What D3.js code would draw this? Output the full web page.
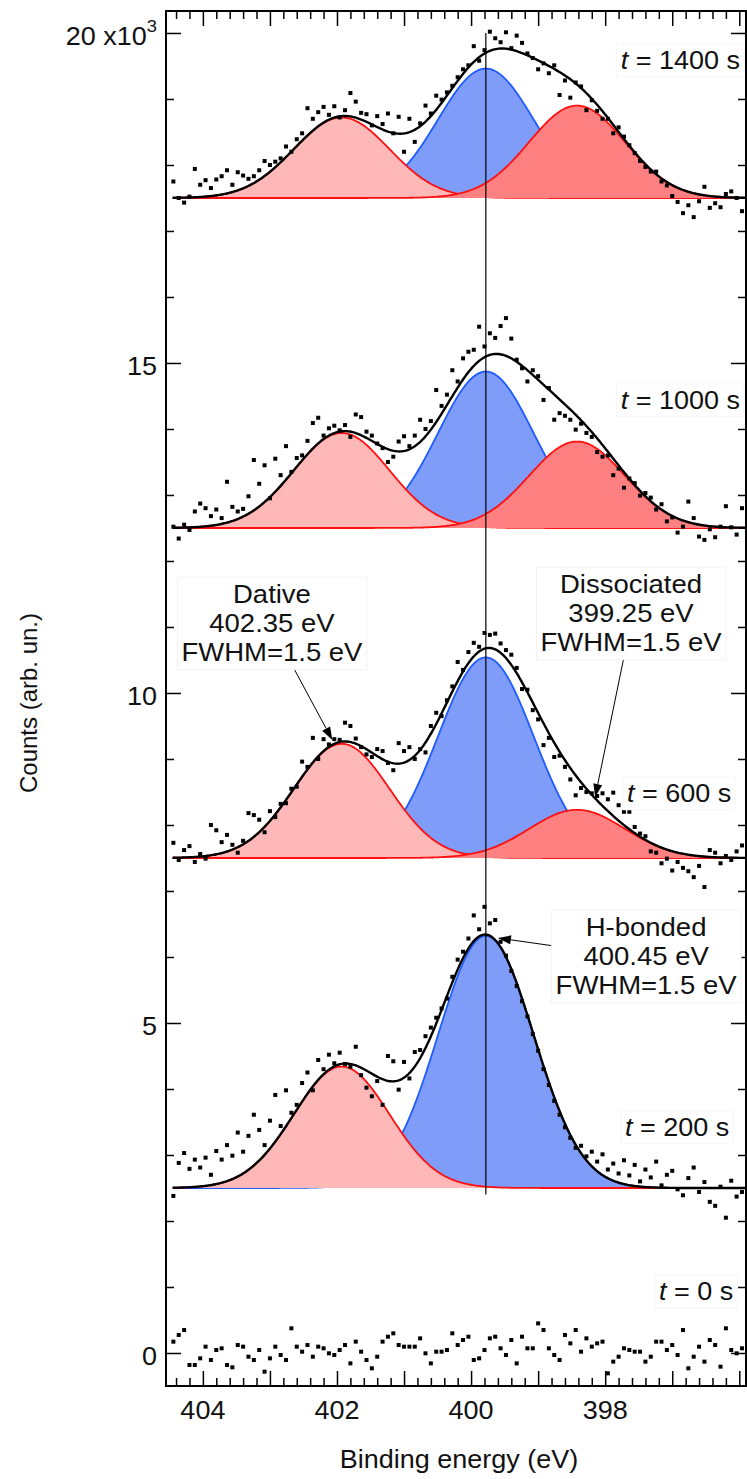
<!DOCTYPE html>
<html><head><meta charset="utf-8">
<script src="https://cdn.jsdelivr.net/npm/d3@7"></script>
<style>
html,body{margin:0;padding:0;background:#fff;}
svg{display:block;font-family:"Liberation Sans",Arial,Helvetica,sans-serif;}
</style></head><body>
<svg id="chart" width="747" height="1479"></svg>
<script>
// ---------------- DATA ----------------
const energies = [
404.44,404.36,404.28,404.20,404.12,404.04,403.96,403.88,403.80,403.72,
403.64,403.56,403.48,403.40,403.32,403.24,403.16,403.08,403.00,402.92,
402.84,402.76,402.68,402.60,402.52,402.44,402.36,402.28,402.20,402.12,
402.04,401.96,401.88,401.80,401.72,401.64,401.56,401.48,401.40,401.32,
401.24,401.16,401.08,401.00,400.92,400.84,400.76,400.68,400.60,400.52,
400.44,400.36,400.28,400.20,400.12,400.04,399.96,399.88,399.80,399.72,
399.64,399.56,399.48,399.40,399.32,399.24,399.16,399.08,399.00,398.92,
398.84,398.76,398.68,398.60,398.52,398.44,398.36,398.28,398.20,398.12,
398.04,397.96,397.88,397.80,397.72,397.64,397.56,397.48,397.40,397.32,
397.24,397.16,397.08,397.00,396.92,396.84,396.76,396.68,396.60,396.52,
396.44,396.36,396.28,396.20,396.12,396.04,395.96];

const counts0 = [
172,273,348,-182,-182,-81,96,-106,45,71,
-182,-217,121,96,-56,-106,45,-283,-81,96,
-30,-106,374,96,20,121,-56,96,71,-5,
-30,45,121,-157,172,20,-106,-232,-56,172,
247,298,121,96,96,96,222,-5,-157,20,
20,45,298,121,197,247,-106,-81,45,222,
247,71,-30,197,-157,247,71,71,449,348,
71,-30,-106,273,146,348,20,222,96,146,
172,-308,-131,-56,71,45,20,20,-131,-56,
172,172,45,121,-30,348,-232,-56,96,-131,
197,121,-207,374,45,-5,71];

const counts200 = [
2380,2880,3030,2790,2930,2810,2960,2700,3060,2930,
3150,2990,3340,3050,3290,3610,3380,3150,3520,3910,
3440,3980,3640,3760,4090,4250,3980,4440,4300,4520,
4390,4550,4380,4340,4640,4210,4020,3890,4120,3760,
4500,4420,3990,4410,4160,4560,4590,4800,4930,5080,
5220,5370,5700,5960,6080,6280,6630,6420,6760,6510,
6560,6230,6020,5790,5560,5330,5100,4830,4580,4300,
4060,3820,3610,3420,3260,3110,3140,2980,3050,2900,
3010,2780,2870,2720,2920,2690,2850,2600,2780,2660,
2900,2540,2700,2760,2480,2390,2650,2810,2440,2590,
2290,2230,2520,2050,2610,2370,2440];

const counts600 = [
7730,7470,7620,7680,7440,7560,7490,8000,7920,7740,
7850,7700,7580,7760,8180,8150,8080,7890,8210,8120,
8320,8330,8550,8580,8960,8880,9320,9000,9300,9220,
9300,9290,9550,9500,9310,9180,9070,9030,9150,9120,
8940,8830,9240,9120,9180,9000,9150,9100,9500,9700,
9650,9890,10100,10470,10350,10620,10760,10700,10910,10880,
10900,10750,10650,10580,10380,10060,10050,9740,9600,9210,
9320,9030,9050,8880,8690,8450,8560,8500,8480,8440,
8480,8390,8490,8300,8200,8200,7970,7870,7830,7600,
7580,7420,7490,7310,7440,7350,7300,7210,7380,7060,
7620,7580,7420,7530,7470,7600,7690];

const counts1000 = [
12520,12340,12550,12470,12750,12870,12800,12680,12780,12650,
13200,12820,12750,12790,12980,13530,13170,13450,12950,13550,
13300,13740,13350,13560,13600,13820,14090,14170,13900,14010,
14050,13980,14060,13880,14220,14180,13960,13900,13780,13710,
13500,13580,13810,13890,13740,13900,14140,14000,14120,14590,
14350,14520,14890,14720,15070,15170,15200,15550,15250,15450,
15380,15560,15680,15370,15050,14920,14720,14890,14800,14440,
14620,14140,14240,14200,14140,13990,14080,13940,13880,13650,
13580,13600,13300,13400,13110,13250,13180,12990,13030,12960,
12780,12860,12600,12660,12430,12520,12900,12650,12370,12320,
12480,12360,12520,12830,12510,12400,12800];

const counts1400 = [
17750,17500,17430,17520,17940,17700,17770,17650,17780,17830,
17920,17700,17890,17840,17790,17830,17920,18060,18000,18050,
18100,18280,18200,18390,18480,18860,18700,18800,18880,18760,
18890,18720,18830,19090,18960,18790,18770,18600,18740,18620,
18780,18480,18730,18200,18700,18350,18630,18900,18780,19050,
18990,19100,19200,19330,19450,19510,19800,19580,19740,20020,
19920,19860,20010,19770,19960,19850,19690,19620,19450,19540,
19390,19510,19060,19280,19020,19250,19190,18830,18980,18820,
18700,18700,18480,18570,18430,18300,18180,18060,17970,17900,
17900,17750,17690,17530,17440,17270,17390,17210,17450,17670,
17350,17420,17360,17560,17600,17500,17300];

// spectra (bottom to top)
const timeLabels = ["0", "200", "600", "1000", "1400"];
const baselines = [0, 2500, 7500, 12500, 17500];
// fitted Gaussian components (centres on the plotted energy axis, amplitudes above baseline)
const peakNames = ["Dative", "H-bonded", "Dissociated"];
const peakCenters = [401.93, 399.78, 398.42];
const peakFWHM = 1.68;
const ampDative = [0, 1840, 1730, 1440, 1220];
const ampHbonded = [0, 3820, 3040, 2370, 1960];
const ampDissoc = [0, 0, 730, 1310, 1400];

// axis ticks
const xTickLabels = [404, 402, 400, 398];
const xMajorTicks = [396, 397, 398, 399, 400, 401, 402, 403, 404];
const yTickValues = [0, 5000, 10000, 15000, 20000];
const yTickLabels = ["0", "5", "10", "15", "20 x10"];

// annotations (energy, counts positions)
const annoTitles = ["Dative", "Dissociated", "H-bonded"];
const annoEnergies = ["402.35 eV", "399.25 eV", "400.45 eV"];
const annoTextE = [402.97, 397.615, 397.39];
const annoTextC = [11364, 11515, 6318];
const annoFromE = [402.63, 397.72, 398.79];
const annoFromC = [10348, 10545, 6171];
const annoTipE = [402.07, 398.15, 399.60];
const annoTipC = [9288, 8424, 6288];

// t-label anchor (right edge energy, baseline counts)
const tLabelE = [396.09, 396.15, 396.12, 395.99, 395.99];
const tLabelC = [803, 3288, 8348, 14303, 19455];

// ---------------- CHART ----------------
const svg = d3.select("#chart");
const L = 166, R = 746, T = 11, B = 1386;
const x = d3.scaleLinear().domain([404.55, 395.9]).range([L, R]);
const y = d3.scaleLinear().domain([-500, 20333]).range([B, T]);
const SX = 1.08; // horizontal glyph stretch of the original
const FS = 25;

const sigma2 = peakFWHM * peakFWHM / (4 * Math.LN2); // = 2 sigma^2
function g(E, c, a) { return a * Math.exp(-(E - c) * (E - c) / sigma2); }
const grid = d3.range(404.45, 395.9, -0.02);

const countsAll = [counts0, counts200, counts600, counts1000, counts1400];
const ampsAll = [ampDative, ampHbonded, ampDissoc];

const fillCols = ["#ffb8b8", "#7e9cf8", "#ff8080"];
const lineCols = ["#ff1010", "#1f5cff", "#ff1010"];
const drawOrder = [1, 0, 2];

const plot = svg.append("g");

for (let s = 0; s < baselines.length; s++) {
  const base = baselines[s];
  const gs = plot.append("g");
  const active = drawOrder.filter(k => ampsAll[k][s] > 0);
  active.forEach(k => {
    const a = ampsAll[k][s], c = peakCenters[k];
    const area = d3.area().x(E => x(E)).y0(y(base)).y1(E => y(base + g(E, c, a)));
    const line = d3.line().x(E => x(E)).y(E => y(base + g(E, c, a)));
    gs.append("path").attr("d", area(grid)).attr("fill", fillCols[k]);
    gs.append("path").attr("d", line(grid)).attr("fill", "none")
      .attr("stroke", lineCols[k]).attr("stroke-width", 1.8);
  });
  if (active.length) {
    const env = E => base + active.reduce((acc, k) => acc + g(E, peakCenters[k], ampsAll[k][s]), 0);
    gs.append("path").attr("class", "env")
      .attr("d", d3.line().x(E => x(E)).y(E => y(env(E)))(grid))
      .attr("fill", "none").attr("stroke", "#000").attr("stroke-width", 2.4);
  }
}

// vertical reference line at H-bonded centre
plot.append("line")
  .attr("x1", x(peakCenters[1])).attr("x2", x(peakCenters[1]))
  .attr("y1", y(20000)).attr("y2", y(2400))
  .attr("stroke", "#000").attr("stroke-width", 1.2);
plot.selectAll("path.env").raise();

// dots
countsAll.forEach(arr => {
  plot.append("g").selectAll("rect").data(arr).join("rect")
    .attr("x", (v, i) => x(energies[i]) - 2)
    .attr("y", v => y(v) - 2)
    .attr("width", 4).attr("height", 4).attr("fill", "#000");
});

// ---------------- AXES / FRAME ----------------
const xMinor = d3.range(3960, 4046, 2).filter(v => v % 10 !== 0).map(v => v / 10);
const yMinor = d3.range(1000, 20000, 1000).filter(v => v % 5000 !== 0);
const axG = svg.append("g");
function addAxis(gen, tr) {
  const a = axG.append("g").attr("transform", tr).call(gen);
  a.select(".domain").remove();
  a.selectAll("text").remove();
  a.selectAll("line").attr("stroke", "#000").attr("stroke-width", 1.5);
}
addAxis(d3.axisBottom(x).tickValues(xMajorTicks).tickSize(-15).tickFormat(""), `translate(0,${B})`);
addAxis(d3.axisBottom(x).tickValues(xMinor).tickSize(-8).tickFormat(""), `translate(0,${B})`);
addAxis(d3.axisTop(x).tickValues(xMajorTicks).tickSize(-15).tickFormat(""), `translate(0,${T})`);
addAxis(d3.axisTop(x).tickValues(xMinor).tickSize(-8).tickFormat(""), `translate(0,${T})`);
addAxis(d3.axisLeft(y).tickValues(yTickValues).tickSize(-15).tickFormat(""), `translate(${L},0)`);
addAxis(d3.axisLeft(y).tickValues(yMinor).tickSize(-8).tickFormat(""), `translate(${L},0)`);
addAxis(d3.axisRight(y).tickValues(yTickValues).tickSize(-15).tickFormat(""), `translate(${R},0)`);
addAxis(d3.axisRight(y).tickValues(yMinor).tickSize(-8).tickFormat(""), `translate(${R},0)`);

svg.append("rect").attr("x", L).attr("y", T).attr("width", R - L).attr("height", B - T)
  .attr("fill", "none").attr("stroke", "#000").attr("stroke-width", 2);

// tick labels
svg.append("g").selectAll("text").data(xTickLabels).join("text")
  .attr("transform", d => `translate(${x(d)},${B + 33}) scale(${SX},1)`)
  .attr("text-anchor", "middle").attr("font-size", FS).attr("fill", "#111")
  .text(d => d);

yTickValues.forEach((v, i) => {
  const t = svg.append("text")
    .attr("transform", `translate(157,${y(v) + 12.5}) scale(${SX},1)`)
    .attr("text-anchor", "end").attr("font-size", FS).attr("fill", "#111");
  t.append("tspan").text(yTickLabels[i]);
  if (v === 20000) t.append("tspan").attr("font-size", 17).attr("dy", -13).text("3");
});

// axis titles
svg.append("text").attr("transform", `translate(459,1468) scale(${SX},1)`)
  .attr("text-anchor", "middle").attr("font-size", FS).attr("fill", "#111")
  .text("Binding energy (eV)");
svg.append("text").attr("transform", "translate(37,703) rotate(-90)")
  .attr("text-anchor", "middle").attr("font-size", 24).attr("fill", "#111")
  .text("Counts (arb. un.)");

// t labels
timeLabels.forEach((tl, i) => {
  const gL = svg.append("g");
  const t = gL.append("text")
    .attr("transform", `translate(${x(tLabelE[i])},${y(tLabelC[i])}) scale(${SX},1)`)
    .attr("text-anchor", "end").attr("font-size", FS).attr("fill", "#111");
  t.append("tspan").attr("font-style", "italic").text("t");
  t.append("tspan").text(" = " + tl + " s");
  const bb = gL.node().getBBox();
  gL.insert("rect", "text").attr("x", bb.x - 4).attr("y", bb.y - 2)
    .attr("width", bb.width + 8).attr("height", bb.height + 4)
    .attr("fill", "#fff").attr("stroke", "#f6f6f6").attr("stroke-width", 1);
});

// annotations
function arrow(g0, x1, y1, x2, y2) {
  const dx = x2 - x1, dy = y2 - y1, len = Math.hypot(dx, dy);
  const ux = dx / len, uy = dy / len, hl = 13, hw = 4.5;
  g0.append("line").attr("x1", x1).attr("y1", y1).attr("x2", x2 - ux * hl).attr("y2", y2 - uy * hl)
    .attr("stroke", "#000").attr("stroke-width", 1);
  const bx = x2 - ux * hl, by = y2 - uy * hl;
  g0.append("path").attr("d", `M${x2},${y2}L${bx - uy * hw},${by + ux * hw}L${bx + uy * hw},${by - ux * hw}Z`)
    .attr("fill", "#000");
}
annoTitles.forEach((title, i) => {
  const gA = svg.append("g");
  arrow(gA, x(annoFromE[i]), y(annoFromC[i]), x(annoTipE[i]), y(annoTipC[i]));
  const tg = gA.append("g");
  const lines = [title, annoEnergies[i], "FWHM=1.5 eV"];
  lines.forEach((ln, j) => {
    tg.append("text")
      .attr("transform", `translate(${x(annoTextE[i])},${y(annoTextC[i]) + j * 29}) scale(1.1,1)`)
      .attr("text-anchor", "middle").attr("font-size", 25).attr("fill", "#111").text(ln);
  });
  const bb = tg.node().getBBox();
  tg.insert("rect", "text").attr("x", bb.x - 4).attr("y", bb.y - 3)
    .attr("width", bb.width + 8).attr("height", bb.height + 6)
    .attr("fill", "#fff").attr("stroke", "#f3f3f3").attr("stroke-width", 1);
});
</script>
</body></html>
